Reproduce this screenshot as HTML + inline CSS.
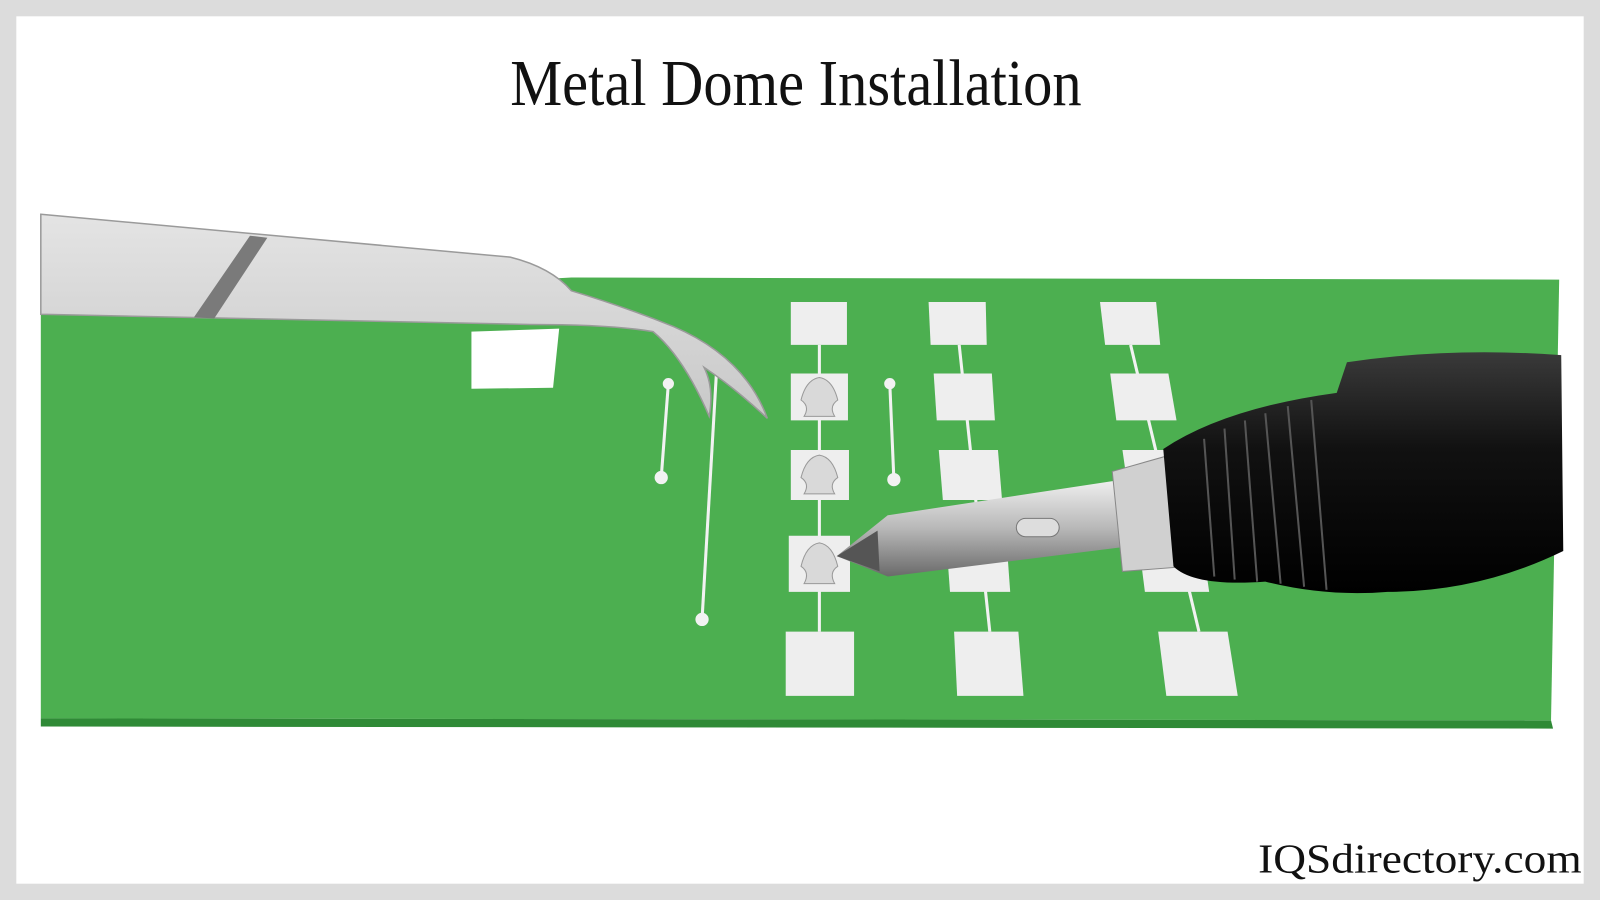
<!DOCTYPE html>
<html><head><meta charset="utf-8"><style>
html,body{margin:0;padding:0;background:#fff;}
svg{display:block;}
</style></head><body>
<svg width="1600" height="900" viewBox="0 0 1568 882" preserveAspectRatio="none" xmlns="http://www.w3.org/2000/svg">
<defs>
<linearGradient id="tw" x1="0" y1="0" x2="0" y2="1"><stop offset="0" stop-color="#e4e4e4"/><stop offset="1" stop-color="#c8c8c8"/></linearGradient>
<linearGradient id="metal" x1="0" y1="0" x2="0" y2="1"><stop offset="0" stop-color="#f0f0f0"/><stop offset="0.5" stop-color="#b8b8b8"/><stop offset="1" stop-color="#6a6a6a"/></linearGradient>
<linearGradient id="blk" x1="0" y1="0" x2="0" y2="1"><stop offset="0" stop-color="#3a3a3a"/><stop offset="0.4" stop-color="#111"/><stop offset="1" stop-color="#000"/></linearGradient>
</defs>
<rect width="1568" height="882" fill="#dcdcdc"/>
<rect x="16" y="16" width="1536" height="850" fill="#ffffff"/>
<text x="780" y="103" font-family="Liberation Serif, serif" font-size="64" text-anchor="middle" textLength="560" lengthAdjust="spacingAndGlyphs" fill="#111">Metal Dome Installation</text>
<!-- board -->
<polygon points="40,300 560,272 1528,274 1520,706 40,704" fill="#4caf50"/>
<polygon points="40,704 1520,706 1522,714 40,712" fill="#2f8a36"/>
<polygon points="462,325 548,322 542,380 462,381" fill="#fff"/>
<!-- traces -->
<g stroke="#f2f2f2" stroke-width="3" fill="#f2f2f2">
<line x1="655" y1="376" x2="648" y2="468"/><circle cx="655" cy="376" r="4"/><circle cx="648" cy="468" r="5"/>
<line x1="872" y1="376" x2="876" y2="470"/><circle cx="872" cy="376" r="4"/><circle cx="876" cy="470" r="5"/>
<line x1="703" y1="350" x2="688" y2="607"/><circle cx="688" cy="607" r="5"/>
<line x1="803" y1="338" x2="803" y2="619"/>
<line x1="940" y1="338" x2="970" y2="619"/>
<line x1="1108" y1="338" x2="1175" y2="619"/>
</g>
<!-- pads -->
<g fill="#eeeeee">
<polygon points="775,296 830,296 830,338 775,338"/>
<polygon points="775,366 831,366 831,412 775,412"/>
<polygon points="775,441 832,441 832,490 775,490"/>
<polygon points="773,525 833,525 833,580 773,580"/>
<polygon points="770,619 837,619 837,682 770,682"/>
<polygon points="910,296 966,296 967,338 912,338"/>
<polygon points="915,366 972,366 975,412 918,412"/>
<polygon points="920,441 978,441 982,490 924,490"/>
<polygon points="927,525 986,525 990,580 931,580"/>
<polygon points="935,619 998,619 1003,682 938,682"/>
<polygon points="1078,296 1133,296 1137,338 1083,338"/>
<polygon points="1088,366 1145,366 1153,412 1094,412"/>
<polygon points="1100,441 1160,441 1168,490 1107,490"/>
<polygon points="1115,525 1177,525 1185,580 1122,580"/>
<polygon points="1135,619 1203,619 1213,682 1143,682"/>
</g>
<!-- domes -->
<g fill="#d9d9d9" stroke="#999" stroke-width="1">
<path d="M785,392 Q790,372 803,370 Q816,372 821,392 Q812,398 818,408 L788,408 Q794,398 785,392Z"/>
<path d="M785,468 Q790,448 803,446 Q816,448 821,468 Q812,474 818,484 L788,484 Q794,474 785,468Z"/>
<path d="M785,555 Q790,534 803,532 Q816,534 821,555 Q812,561 818,572 L788,572 Q794,561 785,555Z"/>
</g>
<!-- tweezers -->
<path d="M40,210 L500,252 Q540,262 560,285 Q610,300 660,320 Q730,350 752,410 Q720,380 690,360 Q700,380 695,408 Q670,350 640,325 Q600,318 520,318 L40,308 Z" fill="url(#tw)" stroke="#9a9a9a" stroke-width="1.5"/>
<polygon points="245,231 262,233 210,312 190,311" fill="#7a7a7a"/>
<!-- soldering iron -->
<polygon points="820,545 870,505 1100,470 1110,535 870,565" fill="url(#metal)"/>
<polygon points="820,545 860,520 862,560" fill="#555"/>
<rect x="996" y="508" width="42" height="18" rx="9" fill="#ddd" stroke="#777"/>
<polygon points="1090,462 1150,445 1165,555 1100,560" fill="#d0d0d0" stroke="#888"/>
<path d="M1140,440 Q1200,400 1310,385 L1320,355 Q1420,340 1530,348 L1532,540 Q1450,580 1360,580 Q1300,585 1240,570 Q1170,575 1150,555 Z" fill="url(#blk)"/>
<g stroke="#555" stroke-width="2">
<line x1="1180" y1="430" x2="1190" y2="565"/><line x1="1200" y1="420" x2="1210" y2="568"/>
<line x1="1220" y1="412" x2="1232" y2="570"/><line x1="1240" y1="405" x2="1255" y2="572"/>
<line x1="1262" y1="398" x2="1278" y2="575"/><line x1="1285" y1="392" x2="1300" y2="578"/>
</g>
<text x="1233" y="855" font-family="Liberation Serif, serif" font-size="40" textLength="317" lengthAdjust="spacingAndGlyphs" fill="#111">IQSdirectory.com</text>
</svg>
</body></html>
